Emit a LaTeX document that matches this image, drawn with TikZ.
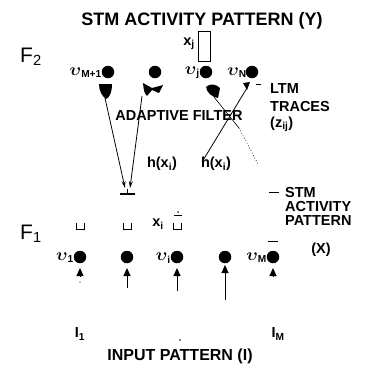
\documentclass[tikz,border=0pt]{standalone}
\usepackage{bm}
\usepackage{fontspec}
\setmainfont{Liberation Sans}
\usetikzlibrary{arrows.meta}
\newcommand\sizeA{\fontsize{14.5}{14.5}\selectfont\bfseries}
\newcommand\sizeB{\fontsize{18}{18}\selectfont\bfseries}
\newcommand\sizeF{\fontsize{21}{21}\selectfont}
\newcommand\ups{{\fontsize{17}{17}\selectfont$\bm{\upsilon}$}}
\begin{document}
\begin{tikzpicture}[x=1pt,y=-1pt,
  lbl/.style={font=\sizeA, inner sep=0pt},
  ttl/.style={font=\sizeB, inner sep=0pt},
  big/.style={font=\sizeF, inner sep=0pt},
  cell/.style={circle, fill=black, minimum size=12.5pt, inner sep=0pt},
  wire/.style={line width=0.8pt},
  inarrow/.style={line width=1pt, -{Triangle[width=7pt,length=8pt]}},
  fwarrow/.style={line width=0.8pt, -{Stealth[width=4pt,length=7pt]}},
  barmark/.style={line width=1pt},
  cup/.style={line width=1pt}
]
\useasboundingbox (0,0) rectangle (367,365);
% titles
\node[ttl] (ytitle) at (202,21) {STM ACTIVITY PATTERN (Y)};
\node[big, anchor=base west] (f2) at (20,62) {F\textsubscript{2}};
\node[big, anchor=base west] (f1) at (20,239) {F\textsubscript{1}};
\node[lbl] (xjlab) at (189,44) {x\textsubscript{j}};
\node[draw, line width=0.9pt, minimum width=12pt, minimum height=30pt, inner sep=0pt] (xj) at (204,46) {};
% F2 cells
\node[cell] (c1) at (108,72) {};
\node[cell] (c2) at (155,72) {};
\node[cell] (cj) at (206,72) {};
\node[cell] (cn) at (252,72) {};
\node[lbl, anchor=east] (l1) at (102,73) {\ups\textsubscript{M+1}};
\node[lbl, anchor=east] (lj) at (200,73) {\ups\textsubscript{j}};
\node[lbl, anchor=east] (ln) at (247,73) {\ups\textsubscript{N}};
% synaptic knobs
\fill (99,84) -- (112,84) .. controls (112,93) and (109,98) .. (106,99) .. controls (102,96) and (99,91) .. (99,84);
\fill (143,83) -- (152,88) -- (163,85) -- (159,93) -- (152,90) -- (147,96) .. controls (144,92) .. (143,83);
\fill (206,87) .. controls (210,83) and (216,84) .. (220,88) -- (218,98) .. controls (212,97) and (207,93) .. (206,87);
\fill (243,83) -- (250,82) -- (247,90) -- cycle;
\draw[barmark] (256,84) -- (261,84);
\coordinate (k1) at (105,98);
\coordinate (k2) at (142,96);
\coordinate (kj) at (214,97);
\coordinate (kn) at (247,88);
% LTM label
\node[lbl, anchor=west] (ltm1) at (270,89) {LTM};
\node[lbl, anchor=west] (ltm2) at (270,107) {TRACES};
\node[lbl, anchor=west] (ltm3) at (270,124) {(z\textsubscript{ij})};
\node[lbl] (af) at (179,116) {ADAPTIVE FILTER};
% filter lines
\coordinate (conv1) at (125,188);
\coordinate (conv2) at (130,188);
\draw[fwarrow] (k1) -- (conv1);
\draw[fwarrow] (k2) -- (conv2);
\draw[barmark, line width=1.4pt] (120,194) -- (135,194);
\draw[barmark] (127,189) -- (127,194);
\coordinate (endn) at (202,162);
\draw[wire] (kn) -- (endn);
\coordinate (kmid) at (239,128);
\coordinate (endj) at (258,164);
\draw[wire, line width=0.6pt] (kj) -- (kmid);
\draw[wire, dotted, line width=0.6pt] (kmid) -- (endj);
\node[lbl] (h1) at (162,164) {h(x\textsubscript{i})};
\node[lbl] (h2) at (216,164) {h(x\textsubscript{i})};
% F1 stm label
\draw[barmark] (269,192) -- (279,192);
\node[lbl, anchor=west] (s1) at (285,193) {STM};
\node[lbl, anchor=west] (s2) at (285,207) {ACTIVITY};
\node[lbl, anchor=west] (s3) at (285,221) {PATTERN};
\node[lbl] (s4) at (321,250) {(X)};
% F1 cells
\node[cell] (a1) at (80,257) {};
\node[cell] (a2) at (127,257) {};
\node[cell] (a3) at (177,257) {};
\node[cell] (a4) at (225,257) {};
\node[cell] (a5) at (273,257) {};
\node[lbl, anchor=east] (u1) at (74,258) {\ups\textsubscript{1}};
\node[lbl, anchor=east] (ui) at (171,258) {\ups\textsubscript{i}};
\node[lbl, anchor=east] (um) at (267,258) {\ups\textsubscript{M}};
\node[lbl] (xil) at (158,224) {x\textsubscript{i}};
% cups
\draw[cup] (76,223) -- (76,229) -- (84,229) -- (84,223);
\draw[cup] (123,223) -- (123,229) -- (131,229) -- (131,223);
\draw[cup] (173,223) -- (173,229) -- (181,229) -- (181,223);
\draw[barmark] (174,215) -- (182,215);
\fill (178,212) circle (0.8pt);
\draw[barmark] (268,241) -- (278,241);
% inputs
\coordinate (i1) at (80,277);
\coordinate (i2) at (127,288);
\coordinate (i3) at (177,291);
\coordinate (i4) at (225,300);
\coordinate (i5) at (273,277);
\draw[inarrow] (i1) -- (a1.south |- 0,268);
\fill (80,282) circle (0.7pt);
\draw[inarrow] (i2) -- (a2.south |- 0,268);
\draw[inarrow] (i3) -- (a3.south |- 0,268);
\draw[inarrow] (i4) -- (a4.south |- 0,265);
\draw[inarrow] (i5) -- (a5.south |- 0,268);
\node[lbl] (I1) at (80,334) {I\textsubscript{1}};
\node[lbl] (IM) at (278,334) {I\textsubscript{M}};
\fill (180,340) circle (0.8pt);
\node[ttl, font=\fontsize{16}{16}\selectfont\bfseries] (inp) at (180,356) {INPUT PATTERN (I)};
\end{tikzpicture}
\end{document}
